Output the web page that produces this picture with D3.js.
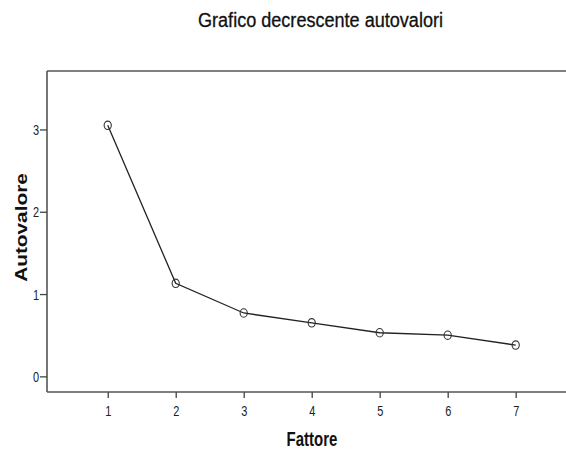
<!DOCTYPE html>
<html>
<head>
<meta charset="utf-8">
<script src="https://cdn.jsdelivr.net/npm/d3@7"></script>
<style>
  html, body { margin: 0; padding: 0; background: #fff; }
  svg { display: block; font-family: "Liberation Sans", Arial, sans-serif; }
</style>
</head>
<body>
<svg id="chart" width="566" height="450"></svg>
<script>
// Scree plot: eigenvalue per factor
const factors = [1, 2, 3, 4, 5, 6, 7];
const eigenvalues = [3.05, 1.13, 0.77, 0.65, 0.53, 0.50, 0.38];
const yTicks = [0, 1, 2, 3];

const svg = d3.select("#chart");
const plotLeft = 47, plotTop = 71, plotBottom = 392, plotRight = 566;
const stretch = 1.3; // tall, narrow lettering

const x = d3.scaleLinear().domain([0.107, 7.74]).range([plotLeft, plotRight]);
const y = d3.scaleLinear().domain([-0.19, 3.71]).range([plotBottom, plotTop]);

// Title
svg.append("text")
  .attr("transform", `translate(320.5,27) scale(1,1.22)`)
  .attr("text-anchor", "middle")
  .attr("font-size", 16)
  .attr("textLength", 245)
  .attr("lengthAdjust", "spacingAndGlyphs")
  .attr("fill", "#111")
  .attr("stroke", "#111").attr("stroke-width", 0.25)
  .text("Grafico decrescente autovalori");

// Top frame line
svg.append("line")
  .attr("x1", plotLeft).attr("x2", plotRight + 2)
  .attr("y1", plotTop).attr("y2", plotTop)
  .attr("stroke", "#555").attr("stroke-width", 1.6);

// Axes
const xAxis = d3.axisBottom(x).tickValues(factors).tickSize(6).tickSizeOuter(0).tickFormat(d3.format("d"));
const yAxis = d3.axisLeft(y).tickValues(yTicks).tickSize(7).tickSizeOuter(0).tickFormat(d3.format("d"));

const gx = svg.append("g").attr("transform", `translate(0,${plotBottom})`).call(xAxis);
const gy = svg.append("g").attr("transform", `translate(${plotLeft},0)`).call(yAxis);

[gx, gy].forEach(g => {
  g.select(".domain").attr("stroke", "#555").attr("stroke-width", 1.6);
  g.selectAll(".tick line").attr("stroke", "#444").attr("stroke-width", 1.3);
  g.selectAll(".tick text")
    .attr("font-size", 11).attr("fill", "#222")
    .attr("font-family", "'Liberation Sans', Arial, sans-serif")
    .attr("x", 0).attr("y", 0).attr("dy", null);
});
gx.selectAll(".tick text")
  .attr("text-anchor", "middle")
  .attr("transform", `translate(0,24) scale(1,${stretch})`);
gy.selectAll(".tick text")
  .attr("text-anchor", "end")
  .attr("transform", `translate(-8,5) scale(1,${stretch})`);
gx.select(".domain").attr("d", `M${plotLeft},0H${plotRight + 2}`);
gy.select(".domain").attr("d", `M0,${plotTop}V${plotBottom}`);

// Axis titles
svg.append("text")
  .attr("transform", `translate(312,446) scale(1,${stretch})`)
  .attr("text-anchor", "middle")
  .attr("font-size", 15).attr("font-weight", "bold").attr("fill", "#111")
  .text("Fattore");

svg.append("text")
  .attr("transform", `translate(27,227.5) rotate(-90) scale(${stretch},1)`)
  .attr("text-anchor", "middle")
  .attr("font-size", 16).attr("font-weight", "bold").attr("fill", "#111")
  .text("Autovalore");

// Line and markers
const pts = factors.map((f, i) => ({ f, v: eigenvalues[i] }));
svg.append("path")
  .datum(pts)
  .attr("fill", "none")
  .attr("stroke", "#222")
  .attr("stroke-width", 1.3)
  .attr("d", d3.line().x(d => x(d.f)).y(d => y(d.v)));

svg.append("g").selectAll("ellipse")
  .data(pts)
  .join("ellipse")
  .attr("cx", d => x(d.f))
  .attr("cy", d => y(d.v))
  .attr("rx", 3.6).attr("ry", 4.2)
  .attr("fill", "none")
  .attr("stroke", "#333")
  .attr("stroke-width", 1.1);
</script>
</body>
</html>
